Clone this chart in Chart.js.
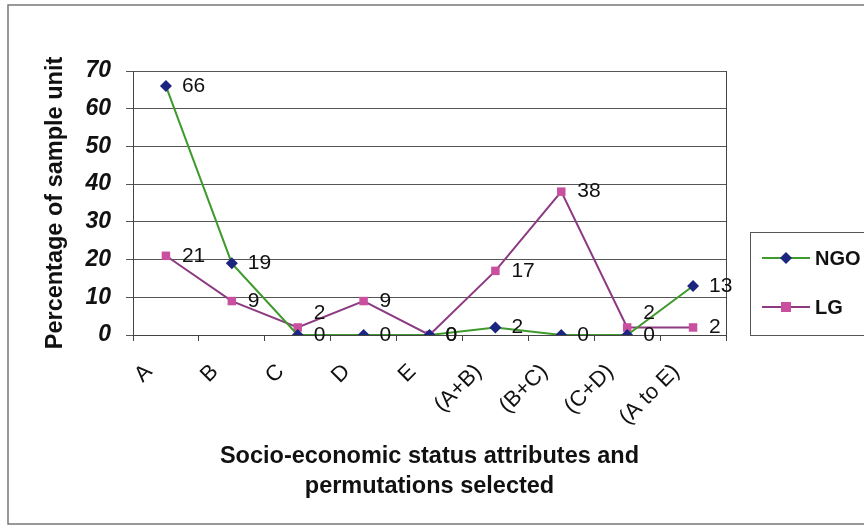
<!DOCTYPE html>
<html>
<head>
<meta charset="utf-8">
<title>Socio-economic status attributes</title>
<script src="https://cdn.jsdelivr.net/npm/chart.js@4.4.1/dist/chart.umd.min.js"></script>
<style>
  html, body { margin: 0; padding: 0; background: #fff; }
  #wrap { width: 864px; height: 526px; position: relative; }
</style>
</head>
<body>
<div id="wrap"><canvas id="statusChart" width="864" height="526"></canvas></div>
<script>
const categories = ["A", "B", "C", "D", "E", "(A+B)", "(B+C)", "(C+D)", "(A to E)"];
const ngoValues = [66, 19, 0, 0, 0, 2, 0, 0, 13];
const lgValues = [21, 9, 2, 9, 0, 17, 38, 2, 2];
const yTicks = [0, 10, 20, 30, 40, 50, 60, 70];

const FONT = "'Liberation Sans', Arial, sans-serif";

// white page with the outer frame of the chart
const framePlugin = {
    id: "frame",
    beforeDraw(chart) {
        const ctx = chart.ctx;
        ctx.save();
        ctx.fillStyle = "#fff";
        ctx.fillRect(0, 0, chart.width, chart.height);
        ctx.strokeStyle = "#777";
        ctx.lineWidth = 1.5;
        ctx.strokeRect(8, 5, chart.width + 20, chart.height - 7);
        ctx.restore();
    },
    afterDatasetsDraw(chart) {
        // right edge of the plot area
        const a = chart.chartArea;
        const ctx = chart.ctx;
        ctx.save();
        ctx.strokeStyle = "#444";
        ctx.lineWidth = 1;
        ctx.beginPath();
        ctx.moveTo(Math.round(a.right) + 0.5, a.top);
        ctx.lineTo(Math.round(a.right) + 0.5, a.bottom);
        ctx.stroke();
        ctx.restore();
    }
};

// value next to every point, LG labels nudged up where they would collide
const valueLabels = {
    id: "valueLabels",
    afterDatasetsDraw(chart) {
        const ctx = chart.ctx;
        ctx.save();
        ctx.font = "21px " + FONT;
        ctx.fillStyle = "#111";
        ctx.textAlign = "left";
        ctx.textBaseline = "middle";
        const ngoMeta = chart.getDatasetMeta(0);
        chart.data.datasets.forEach((ds, i) => {
            const meta = chart.getDatasetMeta(i);
            meta.data.forEach((pt, j) => {
                let y = pt.y;
                if (i === 1) {
                    const other = ngoMeta.data[j];
                    if (ds.data[j] !== ngoValues[j] && Math.abs(other.y - pt.y) < 20) y -= 14;
                }
                ctx.fillText(String(ds.data[j]), pt.x + 16, y);
            });
        });
        ctx.restore();
    }
};

// boxed legend on the right, line + marker + bold name
const boxLegend = {
    id: "boxLegend",
    afterDraw(chart) {
        const ctx = chart.ctx;
        ctx.save();
        ctx.strokeStyle = "#555";
        ctx.lineWidth = 1;
        ctx.strokeRect(750.5, 232.5, 140, 103);
        chart.data.datasets.forEach((ds, i) => {
            const y = 258 + i * 49;
            ctx.strokeStyle = ds.borderColor;
            ctx.lineWidth = 2;
            ctx.beginPath();
            ctx.moveTo(762, y);
            ctx.lineTo(810, y);
            ctx.stroke();
            ctx.fillStyle = ds.pointBackgroundColor;
            ctx.beginPath();
            if (ds.pointStyle === "rectRot") {
                ctx.moveTo(786, y - 6);
                ctx.lineTo(792, y);
                ctx.lineTo(786, y + 6);
                ctx.lineTo(780, y);
                ctx.closePath();
            } else {
                ctx.rect(781, y - 5, 10, 10);
            }
            ctx.fill();
            ctx.fillStyle = "#111";
            ctx.font = "bold 20px " + FONT;
            ctx.textAlign = "left";
            ctx.textBaseline = "middle";
            ctx.fillText(ds.label, 815, y + 1);
        });
        ctx.restore();
    }
};

new Chart(document.getElementById("statusChart").getContext("2d"), {
    type: "line",
    data: {
        labels: categories,
        datasets: [{
            label: "NGO",
            data: ngoValues,
            borderColor: "#3f9a2c",
            borderWidth: 2,
            pointStyle: "rectRot",
            pointRadius: 6,
            pointBackgroundColor: "#1c2580",
            pointBorderColor: "#1c2580",
            pointBorderWidth: 0,
            tension: 0
        }, {
            label: "LG",
            data: lgValues,
            borderColor: "#8c3a82",
            borderWidth: 2,
            pointStyle: "rect",
            pointRadius: 6,
            pointBackgroundColor: "#c8509f",
            pointBorderColor: "#c8509f",
            pointBorderWidth: 0,
            tension: 0
        }]
    },
    options: {
        responsive: false,
        animation: false,
        layout: { padding: { left: 30, right: 138, top: 71, bottom: 0 } },
        plugins: {
            legend: { display: false },
            tooltip: { enabled: false }
        },
        scales: {
            x: {
                offset: true,
                grid: { offset: true, drawOnChartArea: false, drawTicks: true, tickLength: 6, color: "#444" },
                border: { color: "#444", width: 1 },
                ticks: {
                    autoSkip: false,
                    minRotation: 45,
                    maxRotation: 45,
                    labelOffset: -17,
                    padding: 18,
                    color: "#111",
                    font: { family: FONT, size: 22 }
                },
                title: {
                    display: true,
                    text: ["Socio-economic status attributes and", "permutations selected"],
                    color: "#111",
                    font: { family: FONT, size: 23.5, weight: "bold", lineHeight: 1.25 },
                    padding: { top: 0, bottom: 25 }
                },
                afterFit(scale) { scale.height = 191; }
            },
            y: {
                min: 0,
                max: 70,
                afterBuildTicks(scale) { scale.ticks = yTicks.map(v => ({ value: v })); },
                grid: { color: "#555", lineWidth: 1, tickLength: 7 },
                border: { color: "#444", width: 1 },
                ticks: {
                    padding: 15,
                    color: "#111",
                    font: { family: FONT, size: 23, style: "italic", weight: "bold" }
                },
                title: {
                    display: true,
                    text: "Percentage of sample unit",
                    color: "#111",
                    font: { family: FONT, size: 23.5, weight: "bold" },
                    padding: { top: 11, bottom: 0 }
                },
                afterFit(scale) { scale.width = 103; }
            }
        }
    },
    plugins: [framePlugin, valueLabels, boxLegend]
});
</script>
</body>
</html>
